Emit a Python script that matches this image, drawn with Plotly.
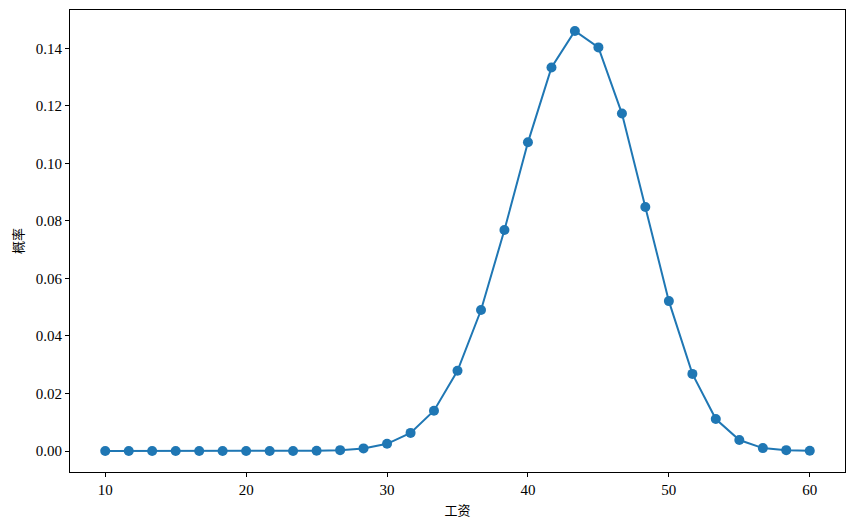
import plotly.graph_objects as go

wage = [10.0, 11.67, 13.33, 15.0, 16.67, 18.33, 20.0, 21.67, 23.33, 25.0,
        26.67, 28.33, 30.0, 31.67, 33.33, 35.0, 36.67, 38.33, 40.0, 41.67,
        43.33, 45.0, 46.67, 48.33, 50.0, 51.67, 53.33, 55.0, 56.67, 58.33, 60.0]
prob = [0.0, 0.0, 0.0, 0.0, 0.0, 0.0, 0.0, 0.0, 0.0, 0.0001,
        0.0003, 0.0009, 0.0025, 0.0063, 0.0140, 0.0279, 0.0490, 0.0768, 0.1073, 0.1333,
        0.1460, 0.1403, 0.1173, 0.0848, 0.0521, 0.0268, 0.0111, 0.0038, 0.0010, 0.0003, 0.0001]

x_ticks = [10, 20, 30, 40, 50, 60]
y_ticks = [0.0, 0.02, 0.04, 0.06, 0.08, 0.10, 0.12, 0.14]

font_family = "Liberation Serif, DejaVu Serif, Noto Sans CJK SC"

fig = go.Figure(go.Scatter(
    x=wage, y=prob, mode="lines+markers",
    line=dict(color="#1f77b4", width=2),
    marker=dict(color="#1f77b4", size=10),
))

axis_common = dict(
    showgrid=False, zeroline=False, showline=True, linecolor="black", linewidth=1,
    mirror=True, ticks="outside", ticklen=4, tickcolor="black", tickwidth=1,
    tickfont=dict(family=font_family, size=15, color="black"),
)

fig.update_layout(
    width=854, height=529,
    margin=dict(l=62, r=17, t=2, b=65, autoexpand=False),
    paper_bgcolor="white", plot_bgcolor="white",
    showlegend=False,
    font=dict(family=font_family, color="black"),
    xaxis=dict(range=[7.5, 62.5], tickvals=x_ticks, ticktext=[str(v) for v in x_ticks],
               title=dict(text="工资", font=dict(family="Noto Sans CJK SC", size=13), standoff=8),
               **axis_common),
    yaxis=dict(range=[-0.0073, 0.1533], tickvals=y_ticks, ticktext=[f"{v:.2f}" for v in y_ticks],
               title=dict(text="概率", font=dict(family="Noto Sans CJK SC", size=13), standoff=16),
               **axis_common),
)

fig.write_html("out.html")
